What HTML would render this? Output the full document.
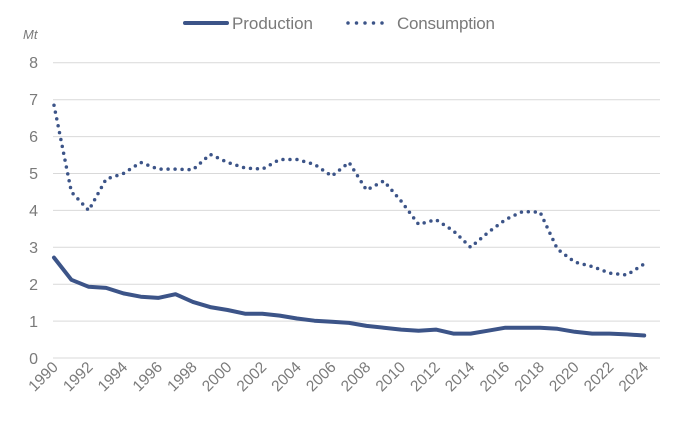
<!DOCTYPE html>
<html><head><meta charset="utf-8"><style>
body{margin:0;background:#fff}
svg text{font-family:"Liberation Sans",sans-serif;fill:#7a7a7a}
</style></head><body>
<svg width="674" height="420" xmlns="http://www.w3.org/2000/svg">
<g stroke="#d9d9d9" stroke-width="1">
<line x1="53" x2="660" y1="62.8" y2="62.8"/><line x1="53" x2="660" y1="99.7" y2="99.7"/>
<line x1="53" x2="660" y1="136.6" y2="136.6"/><line x1="53" x2="660" y1="173.5" y2="173.5"/>
<line x1="53" x2="660" y1="210.4" y2="210.4"/><line x1="53" x2="660" y1="247.3" y2="247.3"/>
<line x1="53" x2="660" y1="284.2" y2="284.2"/><line x1="53" x2="660" y1="321.1" y2="321.1"/>
<line x1="53" x2="660" y1="358" y2="358"/>
</g>
<g font-size="16" text-anchor="end">
<text x="38" y="68">8</text><text x="38" y="105">7</text><text x="38" y="142">6</text><text x="38" y="179">5</text>
<text x="38" y="216">4</text><text x="38" y="253">3</text><text x="38" y="290">2</text><text x="38" y="327">1</text><text x="38" y="364">0</text>
</g>
<text x="23" y="39" font-size="13" font-style="italic">Mt</text>
<line x1="185" x2="227" y1="23" y2="23" stroke="#3c5488" stroke-width="4" stroke-linecap="round"/>
<text x="232" y="29" font-size="17" textLength="81">Production</text>
<line x1="348" x2="383" y1="23" y2="23" stroke="#3c5488" stroke-width="3.5" stroke-linecap="round" stroke-dasharray="0 8.5"/>
<text x="397" y="29" font-size="17" textLength="98">Consumption</text>
<g font-size="15.5" text-anchor="end">
<text transform="translate(59,368) rotate(-45)">1990</text>
<text transform="translate(93.7,368) rotate(-45)">1992</text>
<text transform="translate(128.4,368) rotate(-45)">1994</text>
<text transform="translate(163.2,368) rotate(-45)">1996</text>
<text transform="translate(197.9,368) rotate(-45)">1998</text>
<text transform="translate(232.6,368) rotate(-45)">2000</text>
<text transform="translate(267.3,368) rotate(-45)">2002</text>
<text transform="translate(302,368) rotate(-45)">2004</text>
<text transform="translate(336.8,368) rotate(-45)">2006</text>
<text transform="translate(371.5,368) rotate(-45)">2008</text>
<text transform="translate(406.2,368) rotate(-45)">2010</text>
<text transform="translate(440.9,368) rotate(-45)">2012</text>
<text transform="translate(475.6,368) rotate(-45)">2014</text>
<text transform="translate(510.4,368) rotate(-45)">2016</text>
<text transform="translate(545.1,368) rotate(-45)">2018</text>
<text transform="translate(579.8,368) rotate(-45)">2020</text>
<text transform="translate(614.5,368) rotate(-45)">2022</text>
<text transform="translate(649.2,368) rotate(-45)">2024</text>
</g>
<polyline id="p" fill="none" stroke="#3c5488" stroke-width="4" stroke-linejoin="round" stroke-linecap="round"/>
<polyline id="c" fill="none" stroke="#3c5488" stroke-width="3.5" stroke-linejoin="round" stroke-linecap="round" stroke-dasharray="0 7"/>
<script>
var C=[6.85,4.5,4.0,4.85,5.0,5.3,5.12,5.12,5.1,5.52,5.3,5.15,5.12,5.38,5.38,5.25,4.93,5.3,4.55,4.8,4.25,3.62,3.75,3.45,3.0,3.4,3.75,3.97,3.95,2.95,2.6,2.48,2.3,2.25,2.55];
var P=[2.72,2.12,1.93,1.9,1.75,1.66,1.63,1.73,1.52,1.38,1.3,1.2,1.2,1.15,1.07,1.01,0.98,0.95,0.87,0.82,0.77,0.74,0.77,0.66,0.66,0.74,0.82,0.82,0.82,0.79,0.71,0.66,0.66,0.64,0.61];
function X(i){return 54+i*17.36}function Y(v){return 358-36.9*v}
function pts(a){return a.map(function(v,i){return X(i).toFixed(1)+","+Y(v).toFixed(1)}).join(" ")}
document.getElementById("p").setAttribute("points",pts(P));
document.getElementById("c").setAttribute("points",pts(C));
</script>
</svg>
</body></html>
